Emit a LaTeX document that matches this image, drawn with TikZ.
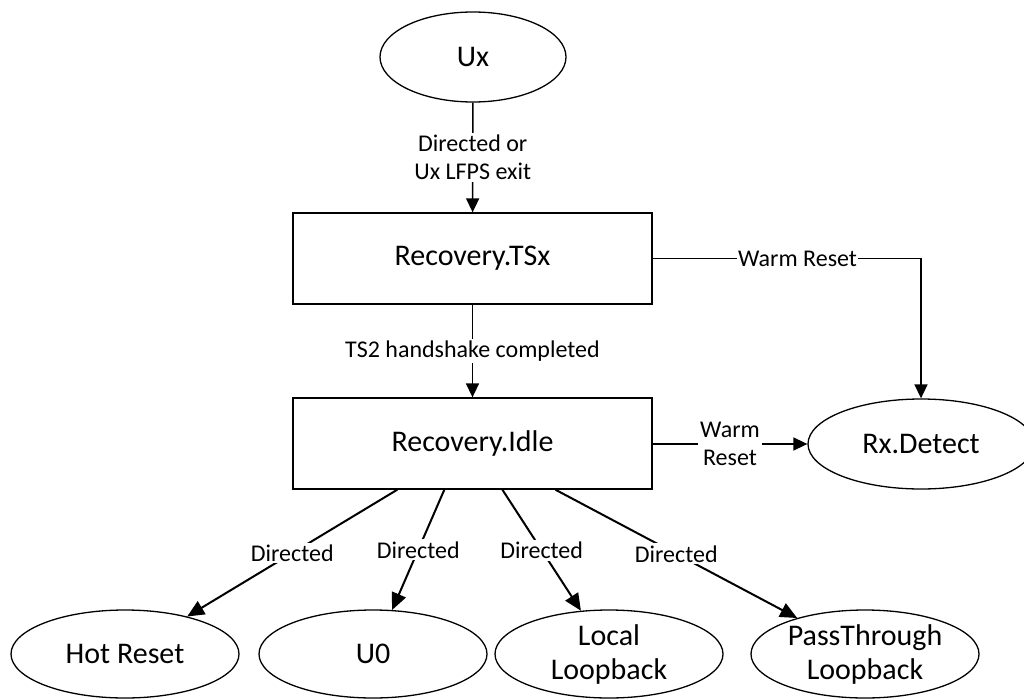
\documentclass[tikz,border=0pt]{standalone}
\usepackage{fontspec}
\setmainfont{Carlito}
\usetikzlibrary{shapes.geometric,arrows.meta,calc}

\tikzset{
  state/.style={draw, ellipse, line width=1.3pt, inner sep=0pt,
    minimum width=228pt, minimum height=88pt, align=center,
    font=\fontsize{30}{34}\selectfont},
  stepbox/.style={draw, rectangle, line width=1.3pt, inner sep=0pt,
    minimum width=359pt, minimum height=91pt,
    font=\fontsize{30}{34}\selectfont},
  flow/.style={line width=1.6pt, -{Triangle[length=14pt,width=13pt]}},
  branch/.style={line width=2pt, -{Triangle[length=17pt,width=15pt]}},
  lbl/.style={fill=white, inner sep=2pt, align=center,
    font=\fontsize{24}{28.5}\selectfont},
}

\begin{document}
\begin{tikzpicture}[x=1pt, y=-1pt]
  \useasboundingbox (0,0) rectangle (1024,698);
  \begin{scope}
  \clip (0,0) rectangle (1024,698);

  % states
  \node[state, minimum width=186pt, minimum height=90pt] (ux) at (473,57) {Ux};
  \node[stepbox] (tsx) at (472.5,258.5) {Recovery.TSx};
  \node[stepbox] (idle) at (472.5,443.5) {Recovery.Idle};
  \node[state, minimum width=226pt, minimum height=90pt] (rx) at (921,444) {Rx.Detect};
  \node[state] (hot) at (125,654) {Hot Reset};
  \node[state] (u0) at (373,654) {U0};
  \node[state, font=\fontsize{30}{34}\selectfont] (loc) at (609,654) {Local\\Loopback};
  \node[state, font=\fontsize{30}{34}\selectfont] (pass) at (865,654) {PassThrough\\Loopback};

  % transitions
  \draw[flow] (ux) -- node[lbl] {Directed or\\Ux LFPS exit} (tsx);
  \draw[flow] (tsx) -- node[lbl] {TS2 handshake completed} (idle);
  \draw[flow] (tsx.east) -| node[lbl, pos=0.27, inner sep=1pt] {Warm Reset} (rx.north);
  \draw[flow] (idle.east |- rx) -- node[lbl] {Warm\\Reset} (rx);

  % directed exits from Recovery.Idle
  \draw[branch] ([xshift=105pt]idle.south west) -- node[lbl] {Directed} (hot);
  \draw[branch] ([xshift=152pt]idle.south west) -- node[lbl] {Directed} (u0);
  \draw[branch] ([xshift=210pt]idle.south west) -- node[lbl] {Directed} (loc);
  \draw[branch] ([xshift=263pt]idle.south west) -- node[lbl] {Directed} (pass);
  \end{scope}
\end{tikzpicture}
\end{document}
